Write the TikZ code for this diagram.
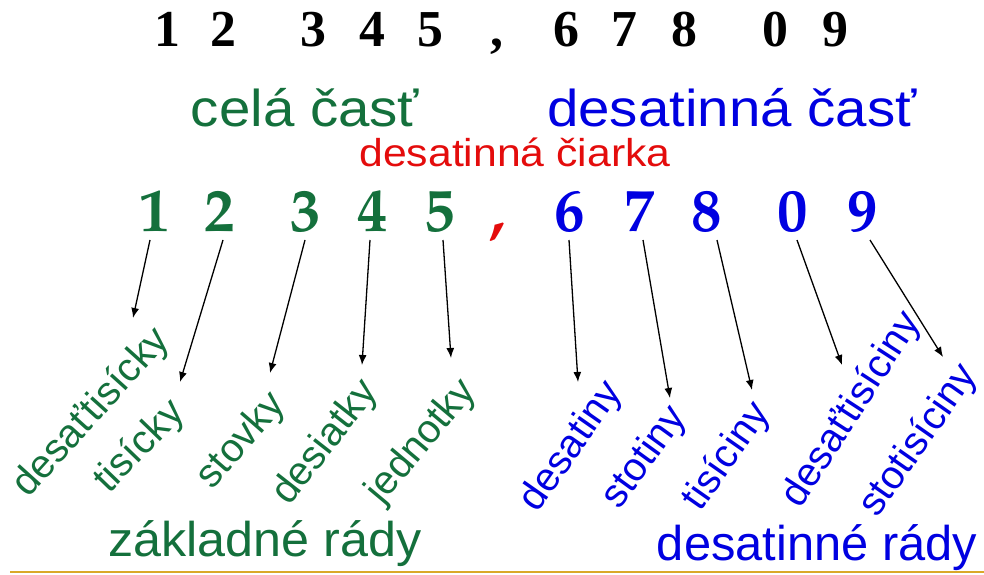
\documentclass[tikz,border=0pt]{standalone}
\usepackage[T1]{fontenc}
\usepackage{fontspec}
\usepackage{graphicx}
\setmainfont{Liberation Sans}
\newfontfamily\tmsfont{Liberation Serif}
\newcommand\palfont{\fontencoding{T1}\fontfamily{ppl}\fontseries{b}\selectfont}
\usetikzlibrary{arrows.meta,calc}
\definecolor{zgreen}{RGB}{20,112,60}
\definecolor{zblue}{RGB}{0,0,225}
\definecolor{zred}{RGB}{228,12,12}
\definecolor{zgold}{RGB}{218,168,40}
\newcommand\sz[3]{\scalebox{#2}[1]{\fontsize{#1}{#1}\selectfont #3}}
\tikzset{
  topdig/.style={anchor=base,inner sep=0pt,font=\tmsfont\bfseries\fontsize{52}{52}\selectfont},
  dig/.style={anchor=base,inner sep=0pt,font=\palfont\fontsize{61}{61}\selectfont},
  head/.style={anchor=base,inner sep=0pt},
  rlab/.style={rotate=#1,inner sep=0pt,anchor=center,font=\fontsize{40}{40}\selectfont},
  arr/.style={line width=1.3bp,-{Latex[length=10bp,width=8bp]}}
}
\begin{document}
\begin{tikzpicture}[x=1bp,y=-1bp]
\useasboundingbox[fill=white] (0,0) rectangle (984,575);
% top row
\node[topdig] (t1) at (167,47) {1};
\node[topdig] (t2) at (223,47) {2};
\node[topdig] (t3) at (313,47) {3};
\node[topdig] (t4) at (372,47) {4};
\node[topdig] (t5) at (430,47) {5};
\node[topdig] (tc) at (497,47) {,};
\node[topdig] (t6) at (566,47) {6};
\node[topdig] (t7) at (624,47) {7};
\node[topdig] (t8) at (684,47) {8};
\node[topdig] (t9) at (775,47) {0};
\node[topdig] (t10) at (835,47) {9};
% headings
\node[head,text=zgreen] (cela) at (305,127) {\sz{52}{1.09}{celá časť}};
\node[head,text=zblue] (desc) at (732,127) {\sz{52}{1.09}{desatinná časť}};
\node[head,text=zred] (ciar) at (515,167) {\sz{39}{1.1}{desatinná čiarka}};
% main digits
\node[dig,text=zgreen] (g1) at (155,232) {1};
\node[dig,text=zgreen] (g2) at (220,232) {2};
\node[dig,text=zgreen] (g3) at (306,232) {3};
\node[dig,text=zgreen] (g4) at (373,232) {4};
\node[dig,text=zgreen] (g5) at (440,232) {5};
\node[dig,text=zred] (gc) at (498,232) {,};
\node[dig,text=zblue] (g6) at (570,232) {6};
\node[dig,text=zblue] (g7) at (640,232) {7};
\node[dig,text=zblue] (g8) at (707,232) {8};
\node[dig,text=zblue] (g9) at (793,232) {0};
\node[dig,text=zblue] (g10) at (863,232) {9};
% rotated labels
\node[rlab=48,text=zgreen] (l1) at (92,413) {desaťtisícky};
\node[rlab=46,text=zgreen] (l2) at (140,447) {tisícky};
\node[rlab=49,text=zgreen] (l3) at (242,441) {stovky};
\node[rlab=52,text=zgreen] (l4) at (326,443) {desiatky};
\node[rlab=50,text=zgreen] (l5) at (422,442) {jednotky};
\node[rlab=55,text=zblue] (l6) at (572,447) {desatiny};
\node[rlab=54,text=zblue] (l7) at (645,458) {stotiny};
\node[rlab=55,text=zblue] (l8) at (727,457) {tisíciny};
\node[rlab=57,text=zblue] (l9) at (852,410) {desaťtisíciny};
\node[rlab=55,text=zblue] (l10) at (919,441) {stotisíciny};
% arrow ends
\coordinate (e1) at (133,318);
\coordinate (e2) at (180,382);
\coordinate (e3) at (270,373);
\coordinate (e4) at (362,365);
\coordinate (e5) at (451,358);
\coordinate (e6) at (578,382);
\coordinate (e7) at (670,398);
\coordinate (e8) at (752,390);
\coordinate (e9) at (842,365);
\coordinate (e10) at (943,357);
\draw[arr] ($(g1.base)+(-5,8)$) -- (e1);
\draw[arr] ($(g2.base)+(3,8)$) -- (e2);
\draw[arr] ($(g3.base)+(-1,8)$) -- (e3);
\draw[arr] ($(g4.base)+(-3,8)$) -- (e4);
\draw[arr] ($(g5.base)+(3,8)$) -- (e5);
\draw[arr] ($(g6.base)+(-1,8)$) -- (e6);
\draw[arr] ($(g7.base)+(3,8)$) -- (e7);
\draw[arr] ($(g8.base)+(10,8)$) -- (e8);
\draw[arr] ($(g9.base)+(4,8)$) -- (e9);
\draw[arr] ($(g10.base)+(7,8)$) -- (e10);
% bottom labels
\node[head,text=zgreen] (zak) at (265,556) {\sz{49}{1.03}{základné rády}};
\node[head,text=zblue] (des) at (817,560) {\sz{49}{1.0}{desatinné rády}};
% bottom rule
\coordinate (r1) at (10,572);
\coordinate (r2) at (984,572);
\draw[zgold,line width=2bp] (r1) -- (r2);
\end{tikzpicture}
\end{document}
